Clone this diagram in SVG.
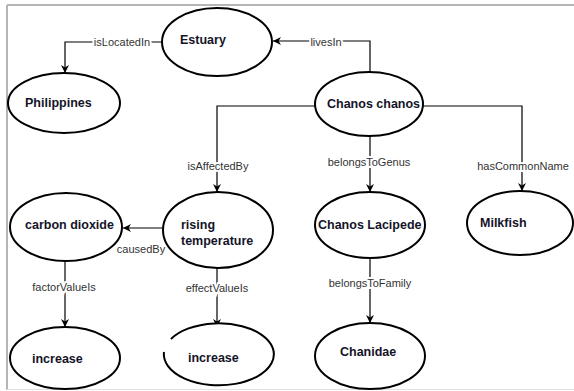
<svg xmlns="http://www.w3.org/2000/svg" width="574" height="391" viewBox="0 0 574 391">
<defs>
<marker id="arr" viewBox="0 0 10 10" refX="10" refY="5" markerWidth="8" markerHeight="8" markerUnits="userSpaceOnUse" orient="auto">
<path d="M0,0 L10,5 L0,10 L3,5 Z" fill="#000"/>
</marker>
<style>
.node ellipse, .node path{fill:#fff;stroke:#000;stroke-width:2}
.node text{font-family:"Liberation Sans",Arial,sans-serif;font-weight:bold;font-size:12.5px;fill:#141428}
.edge{fill:none;stroke:#000;stroke-width:1.2;marker-end:url(#arr)}
.lbl{font-family:"Liberation Sans",Arial,sans-serif;font-size:11px;fill:#333;text-anchor:middle;stroke:#fff;stroke-width:4;paint-order:stroke}
.frame{stroke:#b5b5b5;stroke-width:2;fill:none}
</style>
</defs>
<rect width="574" height="391" fill="#fff"/>
<g id="frame">
<path class="frame" d="M7,5 H574 M7,5 V390"/>
<path d="M7,389.5 H574" stroke="#e2e2e2" stroke-width="1"/>
</g>
<g id="connectors">
<path class="edge" d="M162,42 H65 V73"/>
<path class="edge" d="M370,72 V41 H273"/>
<path class="edge" d="M315,106 H217 V192"/>
<path class="edge" d="M370,136 V192"/>
<path class="edge" d="M423,106 H522 V191"/>
<path class="edge" d="M163,228 H123"/>
<path class="edge" d="M65,261 V327"/>
<path class="edge" d="M217,268 V327"/>
<path class="edge" d="M370,258 V323"/>
<text class="lbl" x="122" y="46">isLocatedIn</text>
<text class="lbl" x="326" y="46">livesIn</text>
<text class="lbl" x="218" y="170">isAffectedBy</text>
<text class="lbl" x="369" y="166">belongsToGenus</text>
<text class="lbl" x="523" y="170">hasCommonName</text>
<text class="lbl" x="141" y="253">causedBy</text>
<text class="lbl" x="64" y="291">factorValueIs</text>
<text class="lbl" x="217" y="292">effectValueIs</text>
<text class="lbl" x="370" y="287">belongsToFamily</text>
</g>
<g id="estuary" class="node"><ellipse cx="217" cy="42" rx="55" ry="34"/><text x="180" y="44">Estuary</text></g>
<g id="philippines" class="node"><ellipse cx="64" cy="103" rx="56" ry="30"/><text x="25" y="107">Philippines</text></g>
<g id="chanos-chanos" class="node"><ellipse cx="369" cy="104" rx="54" ry="32"/><text x="327" y="108">Chanos chanos</text></g>
<g id="carbon-dioxide" class="node"><ellipse cx="66" cy="227" rx="56" ry="34"/><text x="25" y="229">carbon dioxide</text></g>
<g id="rising-temperature" class="node"><ellipse cx="218" cy="230" rx="55" ry="38"/><text x="181" y="229">rising</text><text x="181" y="245">temperature</text></g>
<g id="chanos-lacipede" class="node"><ellipse cx="370" cy="225" rx="55" ry="33"/><text x="318" y="229">Chanos Lacipede</text></g>
<g id="milkfish" class="node"><ellipse cx="520" cy="223" rx="53" ry="32"/><text x="480" y="227">Milkfish</text></g>
<g id="increase-1" class="node"><ellipse cx="65" cy="358" rx="55" ry="31"/><text x="32" y="363">increase</text></g>
<g id="increase-2" class="node"><path d="M171,339 A55,31 0 1 1 164,352"/><text x="188" y="362">increase</text></g>
<g id="chanidae" class="node"><ellipse cx="370" cy="356" rx="55" ry="33"/><text x="340" y="356">Chanidae</text></g>
</svg>
